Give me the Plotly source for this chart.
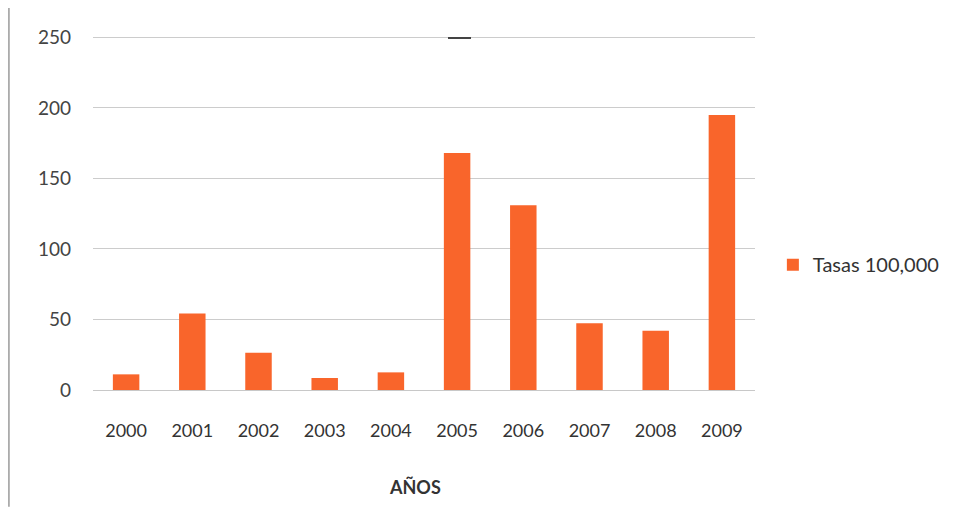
import plotly.graph_objects as go

years = ["2000", "2001", "2002", "2003", "2004", "2005", "2006", "2007", "2008", "2009"]
tasas = [11.1, 54.3, 26.4, 8.5, 12.5, 168, 131, 47.3, 42, 195]
series_name = "Tasas 100,000"
x_title = "AÑOS"
y_ticks = [0, 50, 100, 150, 200, 250]

fig = go.Figure()
fig.add_trace(go.Bar(x=years, y=tasas, name=series_name, marker=dict(color="#F9652B", line=dict(width=0))))

font_fam = "Lato, 'Liberation Sans', sans-serif"
fig.update_layout(
    width=958, height=508,
    margin=dict(l=85, r=211, t=28, b=126),
    paper_bgcolor="white", plot_bgcolor="white",
    bargap=0.6,
    showlegend=True,
    legend=dict(x=1.027, y=0.354, xanchor="left", yanchor="middle",
                font=dict(family=font_fam, size=20, color="#333333"),
                itemwidth=30, bgcolor="rgba(0,0,0,0)"),
    xaxis=dict(type="category", showgrid=False, showline=True, linecolor="#c8c8c8", linewidth=1,
               ticks="", tickfont=dict(family=font_fam, size=18, color="#333333"),
               ticklabelstandoff=24),
    yaxis=dict(range=[0, 251], tickvals=y_ticks, showgrid=True, gridcolor="#cccccc", gridwidth=1,
               zeroline=False, showline=False, ticks="",
               tickfont=dict(family=font_fam, size=19, color="#444444"),
               ticklabelstandoff=21),
    annotations=[dict(text="<b>" + x_title + "</b>", xref="paper", yref="paper",
                      x=(415 - 93) / 662, y=(390 - 487) / 354, xanchor="center", yanchor="middle",
                      showarrow=False, font=dict(family=font_fam, size=18, color="#333333"))],
    shapes=[dict(type="line", xref="paper", yref="paper", x0=-0.127, x1=-0.127, y0=-0.33, y1=1.105,
                 line=dict(color="#9a9a9a", width=1.5)),
            dict(type="line", xref="paper", yref="paper", x0=(448 - 93) / 662, x1=(471 - 93) / 662,
                 y0=(390 - 38) / 354, y1=(390 - 38) / 354, line=dict(color="#444444", width=2))],
)

fig.write_html("out.html")
